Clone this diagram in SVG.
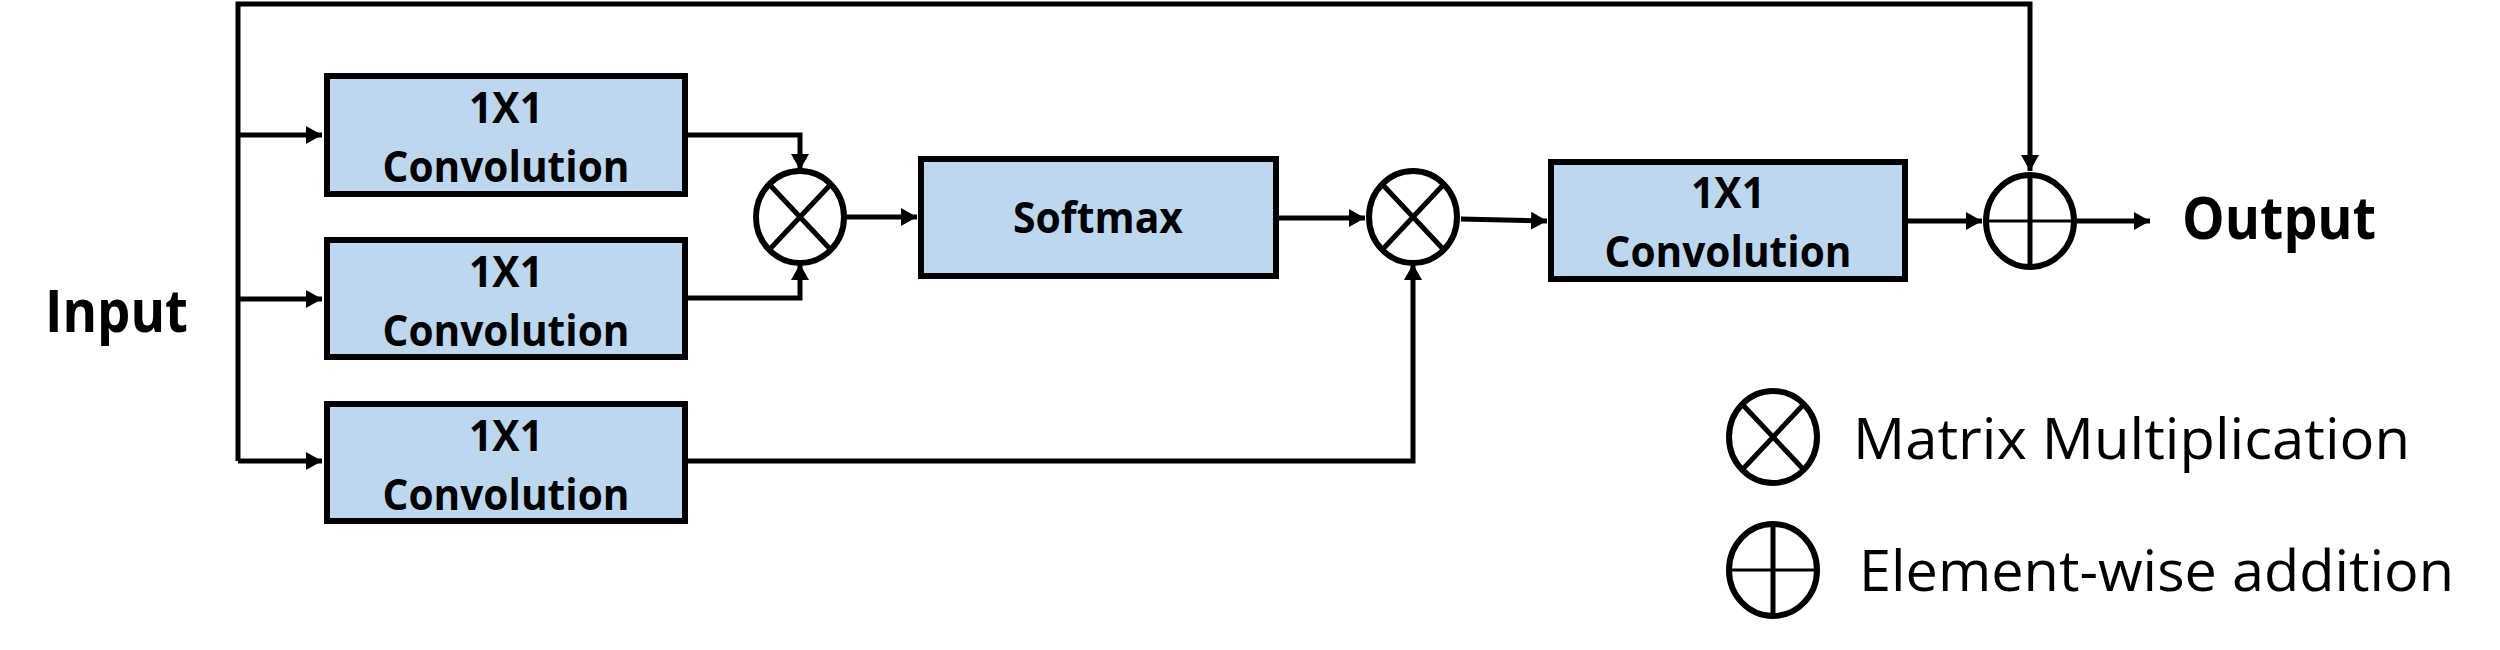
<svg xmlns="http://www.w3.org/2000/svg" width="2500" height="650" viewBox="0 0 2500 650">
<defs>
<style>
.box{fill:#BDD7EE;stroke:#000;stroke-width:6}
.lbl{font-family:"Open Sans","Liberation Sans",sans-serif;font-weight:bold;font-size:43px;fill:#000;text-anchor:middle}
.big{font-family:"Open Sans","Liberation Sans",sans-serif;font-weight:bold;font-size:59px;fill:#000}
.leg{font-family:"Open Sans","Liberation Sans",sans-serif;font-size:56px;fill:#000}
.op{fill:#fff;stroke:#000;stroke-width:6}
.opl{stroke:#000;stroke-width:5;fill:none}
.opt{stroke:#000;stroke-width:3;fill:none}
.con{fill:none;stroke:#000;stroke-width:5;stroke-linejoin:miter}
</style>
<marker id="ah" markerUnits="userSpaceOnUse" markerWidth="18" markerHeight="18" refX="16" refY="9" orient="auto">
<path d="M0,0 L16,9 L0,18 z" fill="#000"/>
</marker>
</defs>

<g id="connectors">
<path class="con" d="M238,461 L238,4 L2030,4 L2030,171" marker-end="url(#ah)"/>
<path class="con" d="M238,135 L322,135" marker-end="url(#ah)"/>
<path class="con" d="M238,299 L322,299" marker-end="url(#ah)"/>
<path class="con" d="M238,461 L322,461" marker-end="url(#ah)"/>
<path class="con" d="M688,135 L800,135 L800,170" marker-end="url(#ah)"/>
<path class="con" d="M688,298 L800,298 L800,264" marker-end="url(#ah)"/>
<path class="con" d="M847,217 L917,217" marker-end="url(#ah)"/>
<path class="con" d="M1279,218 L1365,218" marker-end="url(#ah)"/>
<path class="con" d="M688,461 L1413,461 L1413,264" marker-end="url(#ah)"/>
<path class="con" d="M1461,219 L1547,221" marker-end="url(#ah)"/>
<path class="con" d="M1908,221 L1982,221" marker-end="url(#ah)"/>
<path class="con" d="M2077,221 L2150,221" marker-end="url(#ah)"/>
</g>

<g id="input">
<text class="big" x="45" y="332" textLength="143" lengthAdjust="spacingAndGlyphs">Input</text>
</g>

<g id="conv1">
<rect class="box" x="327" y="76" width="358" height="118"/>
<text class="lbl" x="506" y="123" textLength="74" lengthAdjust="spacingAndGlyphs">1X1</text>
<text class="lbl" x="506" y="182" textLength="247" lengthAdjust="spacingAndGlyphs">Convolution</text>
</g>
<g id="conv2">
<rect class="box" x="327" y="240" width="358" height="117"/>
<text class="lbl" x="506" y="287" textLength="74" lengthAdjust="spacingAndGlyphs">1X1</text>
<text class="lbl" x="506" y="346" textLength="247" lengthAdjust="spacingAndGlyphs">Convolution</text>
</g>
<g id="conv3">
<rect class="box" x="327" y="404" width="358" height="117"/>
<text class="lbl" x="506" y="451" textLength="74" lengthAdjust="spacingAndGlyphs">1X1</text>
<text class="lbl" x="506" y="510" textLength="247" lengthAdjust="spacingAndGlyphs">Convolution</text>
</g>

<g id="matmul1">
<ellipse class="op" cx="800" cy="217" rx="44" ry="46"/>
<path class="opl" d="M769,184 L831,250 M831,184 L769,250"/>
</g>

<g id="softmax">
<rect class="box" x="921" y="159" width="355" height="117"/>
<text class="lbl" x="1098" y="233" textLength="170" lengthAdjust="spacingAndGlyphs">Softmax</text>
</g>

<g id="matmul2">
<ellipse class="op" cx="1413" cy="217" rx="44" ry="46"/>
<path class="opl" d="M1382,184 L1444,250 M1444,184 L1382,250"/>
</g>

<g id="conv4">
<rect class="box" x="1551" y="162" width="354" height="117"/>
<text class="lbl" x="1728" y="208" textLength="74" lengthAdjust="spacingAndGlyphs">1X1</text>
<text class="lbl" x="1728" y="267" textLength="247" lengthAdjust="spacingAndGlyphs">Convolution</text>
</g>

<g id="add">
<ellipse class="op" cx="2030" cy="221" rx="44" ry="46"/>
<path class="opl" d="M2030,175 L2030,267"/>
<path class="opt" d="M1986,221 L2074,221"/>
</g>

<g id="output">
<text class="big" x="2182" y="239" textLength="194" lengthAdjust="spacingAndGlyphs">Output</text>
</g>

<g id="legend-matmul">
<ellipse class="op" cx="1773" cy="437" rx="44" ry="46"/>
<path class="opl" d="M1742,404 L1804,470 M1804,404 L1742,470"/>
<text class="leg" x="1853" y="459" textLength="557" lengthAdjust="spacingAndGlyphs">Matrix Multiplication</text>
</g>
<g id="legend-add">
<ellipse class="op" cx="1773" cy="570" rx="44" ry="46"/>
<path class="opl" d="M1773,524 L1773,616"/>
<path class="opt" d="M1729,570 L1817,570"/>
<text class="leg" x="1859" y="591" textLength="595" lengthAdjust="spacingAndGlyphs">Element-wise addition</text>
</g>
</svg>
